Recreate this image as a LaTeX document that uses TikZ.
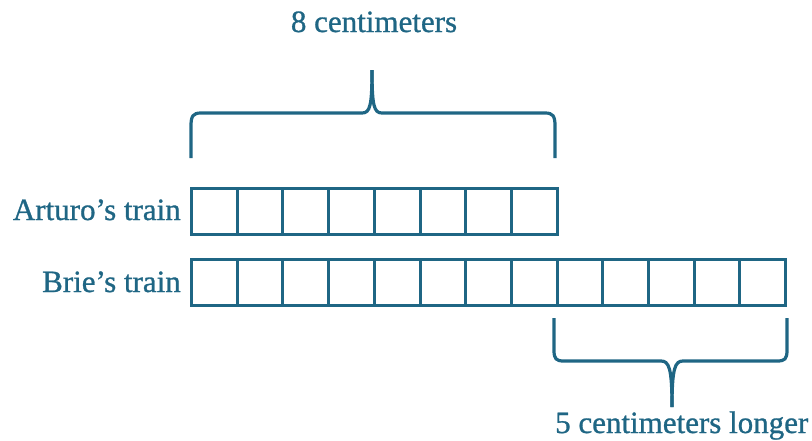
\documentclass[tikz,border=0pt]{standalone}
\usepackage{fontspec}
\setmainfont[FakeBold=0.9]{Liberation Serif}
\definecolor{teal1}{RGB}{31,102,132}
\begin{document}
\begin{tikzpicture}[x=1pt,y=-1pt,
  cell/.style={draw=teal1, line width=3pt, minimum width=45.7pt, minimum height=46pt, inner sep=0pt, anchor=north west},
  brace/.style={draw=teal1, line width=3.2pt},
  lbl/.style={text=teal1, font=\fontsize{31}{36}\selectfont, inner sep=0pt}]
\useasboundingbox (0,0) rectangle (812,440);
% Arturo's train
\foreach \i in {1,...,8}{
  \node[cell] (a\i) at ({190+(\i-1)*45.7},187) {};
}
% Brie's train
\foreach \i in {1,...,13}{
  \node[cell] (b\i) at ({190+(\i-1)*45.7},258) {};
}
\node[lbl, anchor=base east] (la) at (181,220) {Arturo’s train};
\node[lbl, anchor=base east] (lb) at (181,292) {Brie’s train};
% top brace
\draw[brace] (191,158) -- (191,126) .. controls (191,116) and (193,113) .. (201,113) -- (362,113) .. controls (370,113) and (372,106) .. (372,70);
\draw[brace] (555,158) -- (555,126) .. controls (555,116) and (553,113) .. (545,113) -- (382,113) .. controls (374,113) and (372,106) .. (372,70);
\node[lbl, anchor=base] (t8) at (374,32) {8 centimeters};
% bottom brace
\draw[brace] (554,318) -- (554,350) .. controls (554,359) and (556,361) .. (564,361) -- (661,361) .. controls (669,361) and (672,368) .. (672,407);
\draw[brace] (787,318) -- (787,350) .. controls (787,359) and (785,361) .. (777,361) -- (683,361) .. controls (675,361) and (672,368) .. (672,407);
\node[lbl, anchor=base west] (t5) at (555,433) {5 centimeters longer};
\end{tikzpicture}
\end{document}
